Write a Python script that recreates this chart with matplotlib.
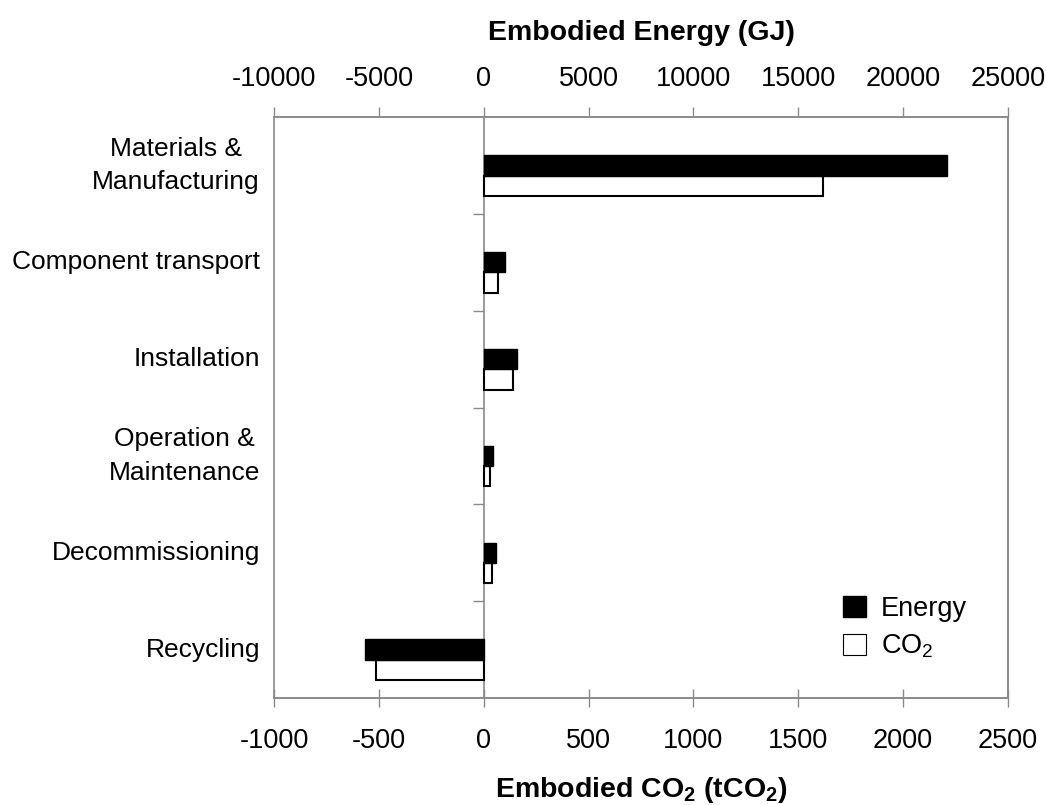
import numpy as np
import matplotlib
matplotlib.use("Agg")
import matplotlib.pyplot as plt
from matplotlib.patches import Patch
from matplotlib.transforms import blended_transform_factory

plt.rcParams["font.family"] = ["Liberation Sans", "DejaVu Sans"]
plt.rcParams["mathtext.fontset"] = "custom"
plt.rcParams["mathtext.rm"] = "Liberation Sans"
plt.rcParams["mathtext.bf"] = "Liberation Sans:bold"
plt.rcParams["mathtext.default"] = "regular"

# data
categories = ["Materials &\nManufacturing", "Component transport", "Installation",
              "Operation &\nMaintenance", "Decommissioning", "Recycling"]
energy_gj = [22100, 1030, 1610, 460, 570, -5670]
co2_t = [1620, 70, 142, 29, 38, -512]

co2_ticks = [-1000, -500, 0, 500, 1000, 1500, 2000, 2500]
energy_ticks = [-10000, -5000, 0, 5000, 10000, 15000, 20000, 25000]

grey = "#8a8a8a"
fs = 19.5
fs_cat = 19
bh = 0.21

fig = plt.figure(figsize=(10.46, 8.05), dpi=100)
ax = fig.add_axes([274 / 1046, 1 - 698 / 805, 734 / 1046, 581 / 805])
ax2 = ax.twiny()

y = np.arange(len(categories))

ax.barh(y + bh, co2_t, height=bh, color="white", edgecolor="black", linewidth=1.5, zorder=3)
ax2.barh(y, energy_gj, height=bh, color="black", edgecolor="black", linewidth=1.0, zorder=3)

ax.set_xlim(co2_ticks[0], co2_ticks[-1])
ax2.set_xlim(energy_ticks[0], energy_ticks[-1])
ax.set_ylim(len(categories) - 0.5, -0.5)

ax.set_xticks(co2_ticks)
ax.set_xticklabels([str(v) for v in co2_ticks], fontsize=fs)
ax2.set_xticks(energy_ticks)
ax2.set_xticklabels([str(v) for v in energy_ticks], fontsize=fs)

ax.tick_params(axis="x", direction="inout", length=13, width=1, color=grey, pad=15)
ax2.tick_params(axis="x", direction="out", length=7, width=1, color=grey, pad=11)

# vertical axis at zero with ticks at category boundaries
ax.spines["left"].set_position(("data", 0))
ax.set_yticks(np.arange(len(categories) - 1) + 0.5)
ax.set_yticklabels([])
ax.tick_params(axis="y", direction="out", length=8, width=1, color=grey)
ax2.tick_params(axis="y", left=False, labelleft=False)

for a in (ax, ax2):
    for s in a.spines.values():
        s.set_color(grey)
        s.set_linewidth(1.2)
ax2.spines["left"].set_visible(False)
ax.axvline(co2_ticks[0], color=grey, lw=1.2, clip_on=False, zorder=5)

trans = blended_transform_factory(fig.transFigure, ax.transData)
for yi, lab in zip(y, categories):
    ax.text(260 / 1046, yi, lab, transform=trans, ha="right", va="center",
            multialignment="center", fontsize=fs_cat, linespacing=1.5)

ax.set_xlabel("Embodied CO$_2$ (tCO$_2$)", fontsize=20.5, fontweight="bold", labelpad=15)
ax2.set_xlabel("Embodied Energy (GJ)", fontsize=20.5, fontweight="bold", labelpad=19)

handles = [Patch(facecolor="black", edgecolor="black"),
           Patch(facecolor="white", edgecolor="black", linewidth=0.8)]
ax.legend(handles, ["Energy", "CO$_2$"], loc="lower left", bbox_to_anchor=(0.775, 0.065),
          frameon=False, fontsize=fs, handlelength=0.85, handleheight=0.85,
          handletextpad=0.55, labelspacing=0.4, borderpad=0, borderaxespad=0)

fig.savefig("out.png", dpi=100)
